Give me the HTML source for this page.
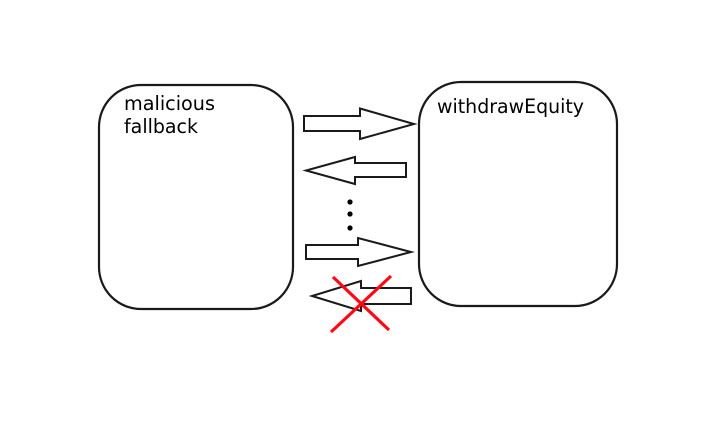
<!DOCTYPE html>
<html>
<head>
<meta charset="utf-8">
<style>
html,body{margin:0;padding:0;background:#fff;width:722px;height:430px;overflow:hidden}
svg{display:block}
text{font-family:"DejaVu Sans","Liberation Sans",sans-serif;font-size:19.5px;fill:#000}
</style>
</head>
<body>
<svg width="722" height="430" viewBox="0 0 722 430" xmlns="http://www.w3.org/2000/svg">
<rect width="722" height="430" fill="#fff"/>
<g fill="#fff" stroke="#1a1a1a" stroke-width="2.200">
<rect x="99" y="85" width="194" height="224" rx="42" ry="42"/>
<rect x="419" y="82" width="198" height="224" rx="42" ry="42"/>
</g>
<g fill="#fff" stroke="#1a1a1a" stroke-width="2" stroke-linejoin="miter">
<polygon points="304,116 360,116 360,108.500 414,124 360,139 360,131 304,131"/>
<polygon points="406,163 355,163 355,157 306,170.500 355,184 355,177 406,177"/>
<polygon points="306,245 358,245 358,238 411,252 358,266 358,259 306,259"/>
<polygon points="411,288 361,288 361,281 312,296 361,311 361,304 411,304"/>
</g>
<g fill="#000">
<circle cx="350" cy="202" r="2.600"/>
<circle cx="350" cy="214" r="2.600"/>
<circle cx="350" cy="228" r="2.600"/>
</g>
<g stroke="#fe0a14" stroke-width="3.200" stroke-linecap="butt">
<line x1="333" y1="277" x2="389" y2="330"/>
<line x1="391" y1="276" x2="331" y2="332"/>
</g>
<text x="124" y="110" textLength="91" lengthAdjust="spacingAndGlyphs">malicious</text>
<text x="124" y="133" textLength="74" lengthAdjust="spacingAndGlyphs">fallback</text>
<text x="437" y="113" textLength="147" lengthAdjust="spacingAndGlyphs">withdrawEquity</text>
</svg>
</body>
</html>
